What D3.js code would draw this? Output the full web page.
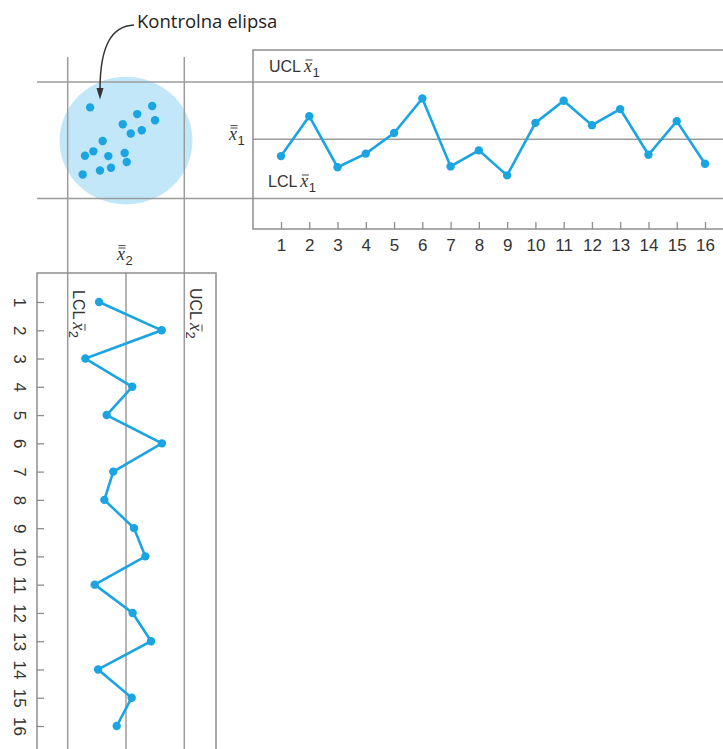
<!DOCTYPE html>
<html>
<head>
<meta charset="utf-8">
<script src="https://cdn.jsdelivr.net/npm/d3@7"></script>
<style>
  html, body { margin: 0; padding: 0; background: #fff; }
  svg { display: block; }
</style>
</head>
<body>
<svg id="chart" width="723" height="749"></svg>
<script>
// ---- data ----
const periods = [1, 2, 3, 4, 5, 6, 7, 8, 9, 10, 11, 12, 13, 14, 15, 16];
const xbar1 = [-0.88, 1.21, -1.46, -0.75, 0.33, 2.14, -1.42, -0.58, -1.89, 0.86, 2.02, 0.74, 1.58, -0.81, 0.95, -1.28];
const xbar2 = [-1.42, 1.88, -2.14, 0.33, -1.02, 1.89, -0.67, -1.14, 0.42, 1.02, -1.65, 0.35, 1.32, -1.47, 0.30, -0.49];
const UCL1 = 3.0, CL1 = 0, LCL1 = -3.1;
const UCL2 = 3.07, CL2 = 0, LCL2 = -3.07;
// scatter inside the control ellipse (x̄2, x̄1)
const scatterX2 = [-1.89, 1.38, 0.59, 1.53, -0.17, 0.83, 0.25, -1.23, -1.72, -2.16, -0.93, -0.07, 0.04, -0.79, -1.37, -2.28];
const scatterX1 = [1.67, 1.74, 1.32, 1.00, 0.79, 0.47, 0.30, -0.09, -0.63, -0.86, -0.88, -0.72, -1.19, -1.49, -1.63, -1.84];
const ellipseCenter = [0.0, -0.07];
const ellipseRadii = [3.5, 3.34];
const annotation = "Kontrolna elipsa";

// ---- setup ----
const svg = d3.select("#chart");
const W = 723, H = 749;
const BLUE = "#1aa5e2", GRID = "#9c9c9c", FRAME = "#8e8e8e";
const SANS = "'Liberation Sans', Arial, sans-serif";
const SERIF = "'Liberation Serif', 'Times New Roman', serif";

// scales
const y1 = d3.scaleLinear().domain([LCL1, UCL1]).range([198.5, 82]);
const x2 = d3.scaleLinear().domain([LCL2, UCL2]).range([67.7, 184.3]);
const t1 = d3.scaleLinear().domain([1, 16]).range([281, 705]);
const t2 = d3.scaleLinear().domain([1, 16]).range([302, 726]);

const topLeft = 253, topTop = 50, topBottom = 229;
const leftLeft = 37, leftRight = 216, leftTop = 273;

// ellipse (behind lines)
svg.append("ellipse")
  .attr("cx", x2(ellipseCenter[0]))
  .attr("cy", y1(ellipseCenter[1]))
  .attr("rx", x2(ellipseRadii[0]) - x2(0))
  .attr("ry", y1(0) - y1(ellipseRadii[1]))
  .attr("fill", "#c2e7f8");

// grid lines crossing the whole figure
const g = svg.append("g").attr("fill", "none");
[UCL1, LCL1].forEach(v => {
  g.append("line").attr("x1", leftLeft).attr("x2", W)
    .attr("y1", y1(v)).attr("y2", y1(v))
    .attr("stroke", GRID).attr("stroke-width", 1.5);
});
g.append("line").attr("x1", topLeft).attr("x2", W)
  .attr("y1", y1(CL1)).attr("y2", y1(CL1))
  .attr("stroke", GRID).attr("stroke-width", 1.5);
[LCL2, UCL2].forEach(v => {
  g.append("line").attr("y1", 57).attr("y2", H)
    .attr("x1", x2(v)).attr("x2", x2(v))
    .attr("stroke", GRID).attr("stroke-width", 1.5);
});
g.append("line").attr("y1", leftTop).attr("y2", H)
  .attr("x1", x2(CL2)).attr("x2", x2(CL2))
  .attr("stroke", GRID).attr("stroke-width", 1.5);

// frames
const fr = svg.append("g").attr("fill", "none").attr("stroke", FRAME).attr("stroke-width", 1.5);
fr.append("path").attr("d", `M${W},${topTop}H${topLeft}V${topBottom}H${W}`);
fr.append("path").attr("d", `M${leftLeft},${H}V${leftTop}H${leftRight}V${H}`);

// top axis
const axTop = svg.append("g").attr("transform", `translate(0,${topBottom})`)
  .call(d3.axisBottom(t1).tickValues(periods).tickSize(-7).tickPadding(10).tickFormat(d3.format("d")));
axTop.select(".domain").remove();
axTop.selectAll(".tick line").attr("stroke", FRAME).attr("stroke-width", 1.3);
axTop.selectAll(".tick text").attr("font-family", SANS).attr("font-size", 17).attr("fill", "#333");

// left axis
const axLeft = svg.append("g").attr("transform", `translate(${leftLeft},0)`)
  .call(d3.axisLeft(t2).tickValues(periods).tickSize(-7).tickFormat(d3.format("d")));
axLeft.select(".domain").remove();
axLeft.selectAll(".tick line").attr("stroke", FRAME).attr("stroke-width", 1.3);
axLeft.selectAll(".tick text")
  .attr("x", 0).attr("y", 0).attr("dy", null)
  .attr("text-anchor", "middle")
  .attr("transform", "translate(-23,0) rotate(90)")
  .attr("font-family", SANS).attr("font-size", 17).attr("fill", "#333");

// top series
const data1 = periods.map((p, i) => [p, xbar1[i]]);
svg.append("path").datum(data1)
  .attr("fill", "none").attr("stroke", BLUE).attr("stroke-width", 2.6).attr("stroke-linejoin", "miter")
  .attr("d", d3.line().x(d => t1(d[0])).y(d => y1(d[1])));
svg.append("g").selectAll("circle").data(data1).join("circle")
  .attr("cx", d => t1(d[0])).attr("cy", d => y1(d[1])).attr("r", 4.2).attr("fill", BLUE);

// left series
const data2 = periods.map((p, i) => [p, xbar2[i]]);
svg.append("path").datum(data2)
  .attr("fill", "none").attr("stroke", BLUE).attr("stroke-width", 2.6)
  .attr("d", d3.line().x(d => x2(d[1])).y(d => t2(d[0])));
svg.append("g").selectAll("circle").data(data2).join("circle")
  .attr("cx", d => x2(d[1])).attr("cy", d => t2(d[0])).attr("r", 4.2).attr("fill", BLUE);

// scatter
svg.append("g").selectAll("circle").data(scatterX2).join("circle")
  .attr("cx", d => x2(d)).attr("cy", (d, i) => y1(scatterX1[i])).attr("r", 4.2).attr("fill", BLUE);

// label helper: prefix + italic x with bars + subscript
function xlabel(x, y, rot, prefix, sub, bars) {
  const gg = svg.append("g").attr("transform", `translate(${x},${y}) rotate(${rot})`);
  let w = 0;
  if (prefix) {
    const t = gg.append("text").attr("x", 0).attr("y", 0).text(prefix)
      .attr("font-family", SANS).attr("font-size", 16).attr("fill", "#333");
    w = t.node().getComputedTextLength() + 3;
  }
  const xt = gg.append("text").attr("x", w).attr("y", 0).text("x")
    .attr("font-family", SERIF).attr("font-style", "italic").attr("font-size", 18).attr("fill", "#333");
  const xw = xt.node().getComputedTextLength();
  for (let b = 0; b < bars; b++) {
    gg.append("line").attr("x1", w + 1.5).attr("x2", w + xw + 0.5)
      .attr("y1", -12 - b * 2.4).attr("y2", -12 - b * 2.4)
      .attr("stroke", "#333").attr("stroke-width", 0.9);
  }
  gg.append("text").attr("x", w + xw + 0.5).attr("y", 4.5).text(sub)
    .attr("font-family", SANS).attr("font-size", 13).attr("fill", "#333");
}

xlabel(269, 72, 0, "UCL", "1", 1);
xlabel(268, 187, 0, "LCL", "1", 1);
xlabel(229, 140, 0, "", "1", 2);
xlabel(117, 260, 0, "", "2", 2);
xlabel(73, 290, 90, "LCL", "2", 1);
xlabel(190, 288, 90, "UCL", "2", 1);

// annotation
svg.append("text").attr("x", 137).attr("y", 28).text(annotation)
  .attr("font-family", "'Open Sans', 'Noto Sans', sans-serif").attr("font-size", 18.5).attr("fill", "#222");
svg.append("path")
  .attr("d", "M134,25 C112,26 100,45 100,90")
  .attr("fill", "none").attr("stroke", "#333").attr("stroke-width", 1.5);
svg.append("path")
  .attr("d", "M96.5,88 L103.5,88 L100,99.5 Z")
  .attr("fill", "#333");
</script>
</body>
</html>
